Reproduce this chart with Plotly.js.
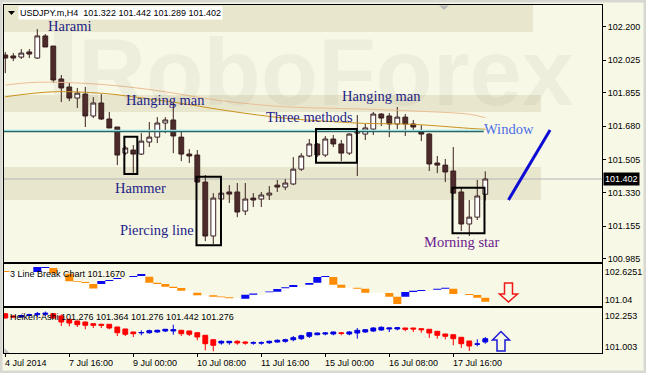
<!DOCTYPE html>
<html><head><meta charset="utf-8">
<script src="https://cdn.plot.ly/plotly-3.0.1.min.js"></script>
<style>html,body{margin:0;padding:0;background:#f8f8e8;}#chart{width:646px;height:373px;}</style>
</head><body><div id="chart"></div>
<script>
// ---------- main chart: USDJPY.m H4 candles ----------
const symbol = 'USDJPY.m';
const timeframe = 'H4';
const mainOpen  = [102.053,102.048,102.042,102.069,102.037,102.153,102.100,101.927,101.885,101.827,101.848,101.733,101.801,101.717,101.675,101.538,101.554,101.533,101.596,101.622,101.696,101.712,101.622,101.533,101.528,101.386,101.103,101.297,101.334,101.334,101.234,101.302,101.297,101.318,101.370,101.360,101.376,101.454,101.523,101.586,101.528,101.612,101.586,101.538,101.643,101.638,101.664,101.743,101.733,101.691,101.727,101.691,101.654,101.638,101.486,101.475,101.444,101.334,101.166,101.202,101.322];
const mainHigh  = [102.069,102.063,102.084,102.084,102.189,102.163,102.100,101.948,101.906,101.880,101.885,101.832,101.848,101.754,101.675,101.575,101.580,101.643,101.701,101.727,101.727,101.801,101.649,101.559,101.554,101.423,101.328,101.344,101.370,101.381,101.381,101.328,101.334,101.365,101.397,101.402,101.517,101.538,101.612,101.591,101.628,101.633,101.607,101.643,101.738,101.691,101.754,101.748,101.748,101.780,101.743,101.712,101.685,101.643,101.523,101.507,101.570,101.360,101.292,101.397,101.442];
const mainLow   = [101.958,102.021,102.032,102.037,102.032,102.095,101.906,101.806,101.811,101.775,101.675,101.722,101.712,101.670,101.475,101.528,101.433,101.528,101.570,101.591,101.643,101.538,101.496,101.486,101.381,101.076,101.061,101.250,101.276,101.202,101.213,101.255,101.255,101.292,101.334,101.344,101.370,101.444,101.517,101.517,101.517,101.570,101.496,101.528,101.418,101.607,101.633,101.680,101.622,101.664,101.628,101.649,101.601,101.444,101.433,101.386,101.323,101.129,101.103,101.187,101.289];
const mainClose = [102.037,102.037,102.063,102.058,102.153,102.095,101.922,101.880,101.827,101.853,101.733,101.801,101.717,101.670,101.528,101.565,101.533,101.601,101.622,101.696,101.712,101.628,101.533,101.523,101.386,101.103,101.302,101.328,101.323,101.229,101.297,101.292,101.318,101.328,101.360,101.381,101.454,101.523,101.586,101.528,101.612,101.586,101.538,101.638,101.654,101.670,101.743,101.722,101.691,101.727,101.691,101.675,101.638,101.481,101.475,101.439,101.328,101.166,101.202,101.313,101.402];

// moving averages (read at sample bars)
const maSlowBars = [0,4,10,15,20,24,28,35,41,45,51,58,60];
const maSlowVals = [101.895,101.910,101.904,101.887,101.860,101.832,101.808,101.781,101.773,101.769,101.759,101.742,101.724];
const maFastBars = [0,6,12,15,22,28,35,41,45,51,58,60];
const maFastVals = [101.834,101.860,101.852,101.839,101.799,101.759,101.721,101.703,101.694,101.689,101.668,101.663];

// levels
const windowLevel = 101.654;
const windowEndBar = 59.8;
const zoneTop    = [102.174, 102.420];
const zoneMiddle = [101.754, 101.843];
const zoneLower  = [101.292, 101.465];
const forecastX = [62.9, 68.1];
const forecastY = [101.292, 101.659];

const mainTicks = [100.985,101.155,101.330,101.505,101.680,101.855,102.025,102.200];

// ---------- 3 Line Break ----------
const lbBar  = [0,4,5,6,8,9,10,11,12,13,14,16,17,18,19,20,21,22,24,26,27,28,30,31,33,34,35,36,38,39,40,41,42,44,45,48,49,50,51,52,54,55,56,58,59,60];
const lbLow  = [102.642,102.642,102.871,102.556,102.110,102.070,102.013,101.698,101.955,102.127,102.242,102.356,102.413,102.030,101.955,101.801,101.727,101.572,101.309,101.229,101.195,101.137,101.115,101.344,101.481,101.515,101.710,101.784,101.915,102.030,102.356,101.915,101.744,101.687,101.458,101.229,100.811,101.229,101.498,101.555,101.630,101.687,101.384,101.327,101.172,100.943];
const lbHigh = [102.699,102.928,102.928,102.871,102.545,102.110,102.070,101.955,102.127,102.184,102.299,102.413,102.528,102.373,102.030,101.955,101.801,101.727,101.458,101.309,101.229,101.195,101.344,101.412,101.515,101.670,101.767,101.898,102.013,102.356,102.413,102.356,101.915,101.744,101.687,101.441,101.229,101.498,101.572,101.612,101.687,101.744,101.687,101.384,101.327,101.167];
const lbDir  = ['d','u','u','d','d','d','d','d','u','u','u','u','u','d','d','d','d','d','d','d','d','d','u','u','u','u','u','u','u','u','u','d','d','d','d','d','d','u','u','u','u','u','d','d','d','d'];
const lbTicks = [101.04, 102.6251];
const lbTickText = ['101.04','102.6251'];

// ---------- Heiken-Ashi ----------
const haOpen  = [102.333,102.241,102.201,102.260,102.293,102.313,102.333,102.241,102.108,102.039,101.999,101.930,101.906,101.906,101.797,101.717,101.596,101.560,101.567,101.596,101.636,101.636,101.664,101.636,101.567,101.463,101.285,101.152,101.164,101.220,101.192,101.150,101.150,101.164,101.192,101.220,101.285,101.326,101.422,101.487,101.515,101.515,101.560,101.515,101.555,101.596,101.636,101.677,101.717,101.717,101.757,101.757,101.729,101.705,101.624,101.515,101.487,101.382,101.233,101.100,101.192];
const haHigh  = [102.360,102.280,102.300,102.330,102.402,102.420,102.350,102.300,102.120,102.050,102.010,101.940,101.930,101.910,101.800,101.720,101.600,101.664,101.689,101.689,101.710,101.890,101.670,101.640,101.570,101.470,101.290,101.261,101.225,101.261,101.220,101.220,101.220,101.245,101.301,101.326,101.434,101.487,101.596,101.567,101.596,101.608,101.596,101.636,101.757,101.700,101.785,101.826,101.760,101.797,101.760,101.760,101.732,101.708,101.627,101.518,101.490,101.385,101.236,101.301,101.394];
const haLow   = [102.140,102.160,102.180,102.230,102.201,102.240,102.120,101.838,101.826,101.797,101.705,101.757,101.757,101.705,101.434,101.434,101.394,101.463,101.527,101.567,101.596,101.487,101.434,101.434,101.261,100.858,100.818,101.083,101.083,101.083,101.083,101.083,101.083,101.112,101.164,101.164,101.220,101.273,101.354,101.463,101.463,101.463,101.463,101.463,101.326,101.567,101.596,101.636,101.596,101.664,101.624,101.596,101.567,101.354,101.326,101.301,101.059,100.951,100.830,101.019,101.124];
const haClose = [102.160,102.201,102.260,102.293,102.333,102.350,102.160,101.999,101.958,101.890,101.866,101.866,101.866,101.757,101.567,101.503,101.527,101.575,101.648,101.664,101.705,101.689,101.527,101.503,101.394,101.124,101.059,101.220,101.220,101.152,101.152,101.160,101.160,101.220,101.261,101.285,101.366,101.447,101.567,101.555,101.555,101.596,101.545,101.596,101.664,101.689,101.757,101.785,101.757,101.769,101.705,101.717,101.689,101.555,101.463,101.422,101.326,101.124,101.031,101.115,101.326];
const haLegendValues = [101.276,101.364,101.276,101.442,101.276];
const haTicks = [101.003, 102.253];
const haTickText = ['101.003','102.253'];

// ---------- time axis ----------
const xTickBars = [0,8,16,24,32,40,48,56];
const xTickText = ['4 Jul 2014','7 Jul 16:00','9 Jul 00:00','10 Jul 08:00','11 Jul 16:00','15 Jul 00:00','16 Jul 08:00','17 Jul 16:00'];

// ---------- build ----------
const W = 646, H = 373;
const px = v => v / W, py = v => 1 - v / H;
const bars = mainOpen.map((_, i) => i);
const XR = [-0.1625, 74.59];
const PLOT_L = 4, PLOT_R = 602;
const barToPx = b => PLOT_L + (b - XR[0]) * (PLOT_R - PLOT_L) / (XR[1] - XR[0]);
const FONT = 'Liberation Sans, Arial, sans-serif';
const SERIF = 'Liberation Serif, Times New Roman, serif';
const BG = '#f8f8e7';

const traces = [];
traces.push({type:'scatter', mode:'lines', x:maSlowBars, y:maSlowVals, line:{color:'#ebbd92', width:1, shape:'spline'}, xaxis:'x', yaxis:'y', hoverinfo:'skip'});
traces.push({type:'scatter', mode:'lines', x:maFastBars, y:maFastVals, line:{color:'#c8921e', width:1, shape:'spline'}, xaxis:'x', yaxis:'y', hoverinfo:'skip'});
traces.push({type:'candlestick', x:bars, open:mainOpen, high:mainHigh, low:mainLow, close:mainClose,
  xaxis:'x', yaxis:'y', whiskerwidth:0, hoverinfo:'skip',
  increasing:{line:{color:'#3a2020', width:1}, fillcolor:'#ffffff'},
  decreasing:{line:{color:'#3a2020', width:1}, fillcolor:'#4e2a2a'}});
traces.push({type:'scatter', mode:'lines', x:forecastX, y:forecastY, line:{color:'#0c0cd4', width:3}, xaxis:'x', yaxis:'y', hoverinfo:'skip'});

// 3LB white area under the current line level
const lbRange = [100.714, 103.083];
const fillX = [], fillY = [];
let cur = null, k = 0;
for (let i = 0; i < bars.length; i++) {
  while (k < lbBar.length && lbBar[k] <= i) { cur = lbLow[k]; k++; }
  if (cur !== null) { fillX.push(i); fillY.push(cur - lbRange[0]); }
}
traces.push({type:'bar', x:fillX, y:fillY, base:lbRange[0], width:1, marker:{color:'#ffffff', line:{width:0}}, xaxis:'x2', yaxis:'y2', hoverinfo:'skip'});
['u','d'].forEach(d => {
  const xs = [], ys = [], bs = [];
  lbBar.forEach((b, j) => { if (lbDir[j] === d) { xs.push(b); bs.push(lbLow[j]); ys.push(Math.max(lbHigh[j] - lbLow[j], 0.05)); } });
  traces.push({type:'bar', x:xs, y:ys, base:bs, width:1, marker:{color: d === 'u' ? '#0a0af0' : '#ff8c00', line:{width:0}}, xaxis:'x2', yaxis:'y2', hoverinfo:'skip'});
});

traces.push({type:'candlestick', x:bars, open:haOpen, high:haHigh, low:haLow, close:haClose,
  xaxis:'x3', yaxis:'y3', whiskerwidth:0, hoverinfo:'skip',
  increasing:{line:{color:'#0000e0', width:1}, fillcolor:'#0000e0'},
  decreasing:{line:{color:'#ff0000', width:1}, fillcolor:'#ff0000'}});

const axX = (extra) => Object.assign({range:XR, domain:[px(PLOT_L), px(PLOT_R)], showline:true, mirror:true, linecolor:'#000', linewidth:1,
  showgrid:false, zeroline:false, showticklabels:false, ticks:'', fixedrange:true, rangeslider:{visible:false}}, extra);
const axY = (extra) => Object.assign({side:'right', showline:true, mirror:true, linecolor:'#000', linewidth:1, showgrid:false, zeroline:false,
  tickfont:{family:FONT, size:9, color:'#000'}, fixedrange:true}, extra);

const shapes = [];
const rect = (x0,x1,y0,y1,o) => Object.assign({type:'rect', xref:'x', yref:'y', x0, x1, y0, y1}, o);
// zones
shapes.push(rect(-1, 65.96, zoneTop[0], zoneTop[1], {fillcolor:'#e8e6cd', line:{width:0}, layer:'below'}));
shapes.push(rect(-1, 66.96, zoneMiddle[0], zoneMiddle[1], {fillcolor:'#e8e6cd', line:{width:0}, layer:'below'}));
shapes.push(rect(-1, 66.96, zoneLower[0], zoneLower[1], {fillcolor:'#e8e6cd', line:{width:0}, layer:'below'}));
// watermark bar of logo
shapes.push({type:'rect', xref:'paper', yref:'paper', x0:px(54), x1:px(72), y0:py(110), y1:py(24), fillcolor:'rgba(120,120,90,0.07)', line:{width:0}, layer:'below'});
// price line and window line
shapes.push({type:'line', xref:'x', yref:'y', x0:XR[0], x1:XR[1], y0:mainClose[mainClose.length-1], y1:mainClose[mainClose.length-1], line:{color:'#b4b4b4', width:1}, layer:'below'});
shapes.push({type:'line', xref:'x', yref:'y', x0:XR[0], x1:windowEndBar, y0:windowLevel+0.003, y1:windowLevel+0.003, line:{color:'#93dede', width:1.3}});
shapes.push({type:'line', xref:'x', yref:'y', x0:XR[0], x1:windowEndBar, y0:windowLevel-0.003, y1:windowLevel-0.003, line:{color:'#2d6262', width:1.3}});
// pattern boxes
const box = (x0,x1,y0,y1) => rect(x0,x1,y0,y1,{line:{color:'#000', width:2}, fillcolor:'rgba(0,0,0,0)'});
shapes.push(box(14.88, 16.5, 101.428, 101.624));
shapes.push(box(23.9, 26.96, 101.055, 101.414));
shapes.push(box(38.84, 43.95, 101.487, 101.665));
shapes.push(box(55.9, 59.9, 101.117, 101.356));
// arrows (outlined)
const path = (pts) => 'M' + pts.map(p => px(p[0]).toFixed(5) + ',' + py(p[1]).toFixed(5)).join(' L') + ' Z';
shapes.push({type:'path', xref:'paper', yref:'paper', path:path([[504.5,283],[512.5,283],[512.5,294],[517.5,294],[508.5,302],[499.5,294],[504.5,294]]), line:{color:'#f01818', width:1.5}, fillcolor:'rgba(255,255,255,0)'});
shapes.push({type:'path', xref:'paper', yref:'paper', path:path([[497,351],[505,351],[505,340],[509.5,340],[501,331.5],[492.5,340],[497,340]]), line:{color:'#1a1ad6', width:1.5}, fillcolor:'rgba(255,255,255,0)'});
// MT4 shift markers
shapes.push({type:'path', xref:'paper', yref:'paper', path:path([[439,5.5],[449,5.5],[444,10]]), fillcolor:'#b8b8b8', line:{width:0}});
shapes.push({type:'path', xref:'paper', yref:'paper', path:path([[4.5,348],[4.5,353],[9.5,353]]), fillcolor:'#c0c0c0', line:{width:0}});
shapes.push({type:'path', xref:'paper', yref:'paper', path:path([[8,11],[15,11],[11.5,15]]), fillcolor:'#000', line:{width:0}});
// outer frame
shapes.push({type:'rect', xref:'paper', yref:'paper', x0:0, x1:1, y0:0, y1:1, line:{color:'#d8d8d2', width:5}, fillcolor:'rgba(0,0,0,0)'});

const annotations = [];
const note = (text, x, y, color, size, extra) => annotations.push(Object.assign({text, xref:'paper', yref:'paper', x:px(x), y:py(y), xanchor:'center', yanchor:'middle', showarrow:false, font:{family:SERIF, size:size||14.5, color}}, extra||{}));
note('RoboForex', 76, 72, '', 0, {xanchor:'left', font:{family:FONT, size:94, weight:'bold', color:'rgba(120,120,90,0.07)'}});
note('Harami', 69, 26, '#1e1e88');
note('Hanging man', 165, 100, '#1e1e88');
note('Three methods', 309, 117, '#1e1e88');
note('Hanging man', 381, 95.5, '#1e1e88');
note('Window', 509, 129, '#4c6ee4');
note('Hammer', 140, 187.5, '#1e1e88');
note('Piercing line', 157, 230, '#1e1e88');
note('Morning star', 461, 241.5, '#6a1a8c');
// header
const last = mainClose.length - 1;
annotations.push({text: symbol + ',' + timeframe + '  ' + [mainOpen[last], mainHigh[last], mainLow[last], mainClose[last]].map(v => v.toFixed(3)).join(' '),
  xref:'paper', yref:'paper', x:px(18), y:py(13), xanchor:'left', yanchor:'middle', showarrow:false, bgcolor:'#ffffff', borderpad:1,
  font:{family:FONT, size:9, color:'#000'}});
annotations.push({text:'3 Line Break Chart ' + lbHigh[lbHigh.length-1].toFixed(4), xref:'paper', yref:'paper', x:px(8), y:py(273.5), xanchor:'left', yanchor:'middle', showarrow:false, font:{family:FONT, size:9, color:'#000'}});
annotations.push({text:'Heiken-Ashi ' + haLegendValues.map(v => v.toFixed(3)).join(' '), xref:'paper', yref:'paper', x:px(8), y:py(317), xanchor:'left', yanchor:'middle', showarrow:false, font:{family:FONT, size:9, color:'#000'}});
// current price box
annotations.push({text: mainClose[last].toFixed(3), xref:'paper', yref:'y', x:px(602.5), y:mainClose[last], xanchor:'left', yanchor:'middle', showarrow:false,
  bgcolor:'#000', borderpad:1, font:{family:FONT, size:9, color:'#fff'}});
// time labels (left-aligned at each tick bar, MT4 style)
xTickBars.forEach((b, j) => annotations.push({text:xTickText[j], xref:'paper', yref:'paper', x:px(barToPx(b) - 2.3), y:py(363), xanchor:'left', yanchor:'middle', showarrow:false, font:{family:FONT, size:9, color:'#000'}}));

const layout = {
  width:W, height:H, margin:{l:0, r:0, t:0, b:0}, paper_bgcolor:BG, plot_bgcolor:BG, showlegend:false,
  barmode:'overlay', boxgap:0.4, boxgroupgap:0, dragmode:false, hovermode:false,
  xaxis: axX({anchor:'y'}),
  yaxis: axY({anchor:'x', domain:[py(262.3), py(4.5)], range:[100.965, 102.318], tickvals:mainTicks, ticktext:mainTicks.map(v => v.toFixed(3)), ticks:'outside', ticklen:3, tickcolor:'#000'}),
  xaxis2: axX({anchor:'y2'}),
  yaxis2: axY({anchor:'x2', domain:[py(305.7), py(264.3)], range:lbRange, tickvals:lbTicks, ticktext:lbTickText, ticks:''}),
  xaxis3: axX({anchor:'y3', tickvals:xTickBars, ticks:'outside', ticklen:3, tickcolor:'#000'}),
  yaxis3: axY({anchor:'x3', domain:[py(353.3), py(308.3)], range:[100.737, 102.551], tickvals:haTicks, ticktext:haTickText, ticks:''}),
  shapes, annotations
};
Plotly.newPlot('chart', traces, layout, {staticPlot:true, displayModeBar:false});
</script></body></html>
